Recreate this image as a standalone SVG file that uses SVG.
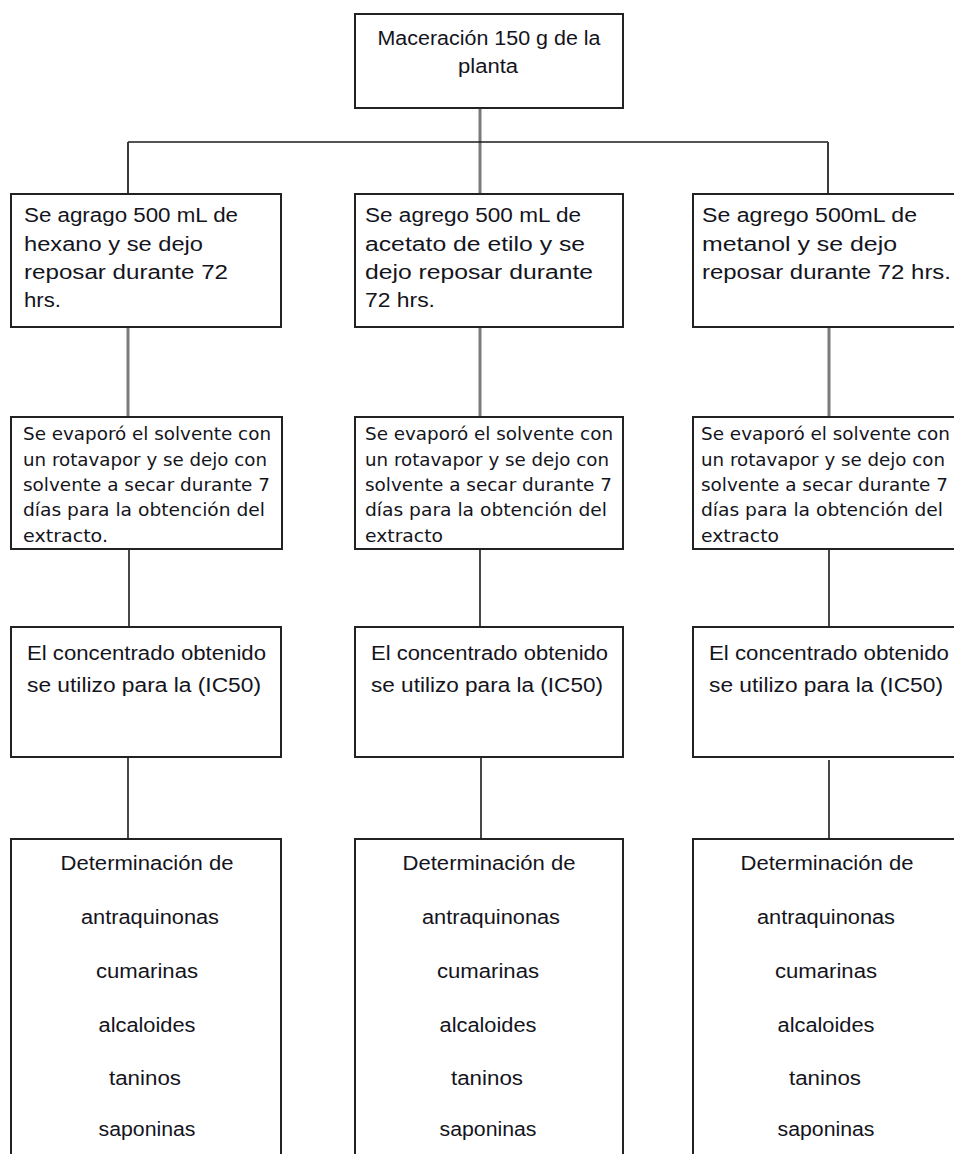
<svg xmlns="http://www.w3.org/2000/svg" width="954" height="1154" viewBox="0 0 954 1154">
<style>
.box{fill:#fff;stroke:#222;stroke-width:2}
.t{font-family:"Liberation Sans",Arial,sans-serif;font-size:20px;fill:#141420}
.v{font-family:"DejaVu Sans",Verdana,sans-serif;font-size:17px;fill:#141420}
.c{text-anchor:middle}
.gray{stroke:#7a7a7a;stroke-width:3;fill:none}
.dk{stroke:#3a3a3a;stroke-width:2;fill:none}
.bl{stroke:#1a1a1a;stroke-width:1.6;fill:none}
</style>
<rect width="954" height="1154" fill="#fff"/>
<g id="connectors">
<line class="gray" x1="480" y1="108" x2="480" y2="194"/>
<line class="bl" x1="128" y1="142" x2="828" y2="142"/>
<line class="dk" x1="128" y1="142" x2="128" y2="194"/>
<line class="dk" x1="828" y1="142" x2="828" y2="194"/>
<line class="gray" x1="128" y1="327" x2="128" y2="417"/>
<line class="gray" x1="480" y1="327" x2="480" y2="417"/>
<line class="gray" x1="829" y1="327" x2="829" y2="417"/>
<line class="bl" x1="129" y1="549" x2="129" y2="627"/>
<line class="bl" x1="480" y1="549" x2="480" y2="627"/>
<line class="bl" x1="829" y1="549" x2="829" y2="627"/>
<line class="bl" x1="128" y1="757" x2="128" y2="839"/>
<line class="bl" x1="481" y1="757" x2="481" y2="839"/>
<line class="bl" x1="829" y1="760" x2="829" y2="839"/>
</g>
<g id="n0">
<rect class="box" x="355" y="14" width="268" height="94"/>
<text class="t c" x="489" y="45" textLength="223" lengthAdjust="spacingAndGlyphs">Maceración 150 g de la</text>
<text class="t c" x="488" y="73" textLength="60" lengthAdjust="spacingAndGlyphs">planta</text>
</g>
<g id="n1">
<rect class="box" x="11" y="194" width="270" height="133"/>
<text class="t" x="24" y="222" textLength="214" lengthAdjust="spacingAndGlyphs">Se agrago 500 mL de</text>
<text class="t" x="24" y="251" textLength="179" lengthAdjust="spacingAndGlyphs">hexano y se dejo</text>
<text class="t" x="24" y="279" textLength="204" lengthAdjust="spacingAndGlyphs">reposar durante 72</text>
<text class="t" x="24" y="307" textLength="37" lengthAdjust="spacingAndGlyphs">hrs.</text>
</g>
<g id="n2">
<rect class="box" x="355" y="194" width="268" height="133"/>
<text class="t" x="365" y="222" textLength="216" lengthAdjust="spacingAndGlyphs">Se agrego 500 mL de</text>
<text class="t" x="365" y="251" textLength="220" lengthAdjust="spacingAndGlyphs">acetato de etilo y se</text>
<text class="t" x="365" y="279" textLength="228" lengthAdjust="spacingAndGlyphs">dejo reposar durante</text>
<text class="t" x="365" y="307" textLength="70" lengthAdjust="spacingAndGlyphs">72 hrs.</text>
</g>
<g id="n3">
<rect class="box" x="693" y="194" width="275" height="133"/>
<text class="t" x="702" y="222" textLength="215" lengthAdjust="spacingAndGlyphs">Se agrego 500mL de</text>
<text class="t" x="702" y="251" textLength="195" lengthAdjust="spacingAndGlyphs">metanol y se dejo</text>
<text class="t" x="702" y="279" textLength="249" lengthAdjust="spacingAndGlyphs">reposar durante 72 hrs.</text>
</g>
<g id="n4">
<rect class="box" x="11" y="417" width="271" height="132"/>
<text class="v" x="23" y="440" textLength="248" lengthAdjust="spacingAndGlyphs">Se evaporó el solvente con</text>
<text class="v" x="23" y="466" textLength="244" lengthAdjust="spacingAndGlyphs">un rotavapor y se dejo con</text>
<text class="v" x="23" y="491" textLength="247" lengthAdjust="spacingAndGlyphs">solvente a secar durante 7</text>
<text class="v" x="23" y="516" textLength="242" lengthAdjust="spacingAndGlyphs">días para la obtención del</text>
<text class="v" x="23" y="542" textLength="85" lengthAdjust="spacingAndGlyphs">extracto.</text>
</g>
<g id="n5">
<rect class="box" x="355" y="417" width="268" height="132"/>
<text class="v" x="365" y="440" textLength="248" lengthAdjust="spacingAndGlyphs">Se evaporó el solvente con</text>
<text class="v" x="365" y="466" textLength="244" lengthAdjust="spacingAndGlyphs">un rotavapor y se dejo con</text>
<text class="v" x="365" y="491" textLength="247" lengthAdjust="spacingAndGlyphs">solvente a secar durante 7</text>
<text class="v" x="365" y="516" textLength="242" lengthAdjust="spacingAndGlyphs">días para la obtención del</text>
<text class="v" x="365" y="542" textLength="78" lengthAdjust="spacingAndGlyphs">extracto</text>
</g>
<g id="n6">
<rect class="box" x="693" y="417" width="275" height="132"/>
<text class="v" x="701" y="440" textLength="249" lengthAdjust="spacingAndGlyphs">Se evaporó el solvente con</text>
<text class="v" x="701" y="466" textLength="244" lengthAdjust="spacingAndGlyphs">un rotavapor y se dejo con</text>
<text class="v" x="701" y="491" textLength="247" lengthAdjust="spacingAndGlyphs">solvente a secar durante 7</text>
<text class="v" x="701" y="516" textLength="242" lengthAdjust="spacingAndGlyphs">días para la obtención del</text>
<text class="v" x="701" y="542" textLength="78" lengthAdjust="spacingAndGlyphs">extracto</text>
</g>
<g id="n7">
<rect class="box" x="11" y="627" width="270" height="130"/>
<text class="t" x="27" y="660" textLength="239" lengthAdjust="spacingAndGlyphs">El  concentrado obtenido</text>
<text class="t" x="27" y="692" textLength="234" lengthAdjust="spacingAndGlyphs">se utilizo para la (IC50)</text>
</g>
<g id="n8">
<rect class="box" x="355" y="627" width="268" height="130"/>
<text class="t" x="371" y="660" textLength="237" lengthAdjust="spacingAndGlyphs">El  concentrado obtenido</text>
<text class="t" x="371" y="692" textLength="232" lengthAdjust="spacingAndGlyphs">se utilizo para la (IC50)</text>
</g>
<g id="n9">
<rect class="box" x="693" y="627" width="275" height="130"/>
<text class="t" x="709" y="660" textLength="240" lengthAdjust="spacingAndGlyphs">El  concentrado obtenido</text>
<text class="t" x="709" y="692" textLength="234" lengthAdjust="spacingAndGlyphs">se utilizo para la (IC50)</text>
</g>
<g id="n10">
<rect class="box" x="11" y="839" width="270" height="330"/>
<text class="t c" x="147" y="870" textLength="173" lengthAdjust="spacingAndGlyphs">Determinación de</text>
<text class="t c" x="150" y="924" textLength="138" lengthAdjust="spacingAndGlyphs">antraquinonas</text>
<text class="t c" x="147" y="978" textLength="102" lengthAdjust="spacingAndGlyphs">cumarinas</text>
<text class="t c" x="147" y="1032" textLength="97" lengthAdjust="spacingAndGlyphs">alcaloides</text>
<text class="t c" x="145" y="1085" textLength="72" lengthAdjust="spacingAndGlyphs">taninos</text>
<text class="t c" x="147" y="1136" textLength="97" lengthAdjust="spacingAndGlyphs">saponinas</text>
</g>
<g id="n11">
<rect class="box" x="355" y="839" width="268" height="330"/>
<text class="t c" x="489" y="870" textLength="173" lengthAdjust="spacingAndGlyphs">Determinación de</text>
<text class="t c" x="491" y="924" textLength="138" lengthAdjust="spacingAndGlyphs">antraquinonas</text>
<text class="t c" x="488" y="978" textLength="102" lengthAdjust="spacingAndGlyphs">cumarinas</text>
<text class="t c" x="488" y="1032" textLength="97" lengthAdjust="spacingAndGlyphs">alcaloides</text>
<text class="t c" x="487" y="1085" textLength="72" lengthAdjust="spacingAndGlyphs">taninos</text>
<text class="t c" x="488" y="1136" textLength="97" lengthAdjust="spacingAndGlyphs">saponinas</text>
</g>
<g id="n12">
<rect class="box" x="693" y="839" width="275" height="330"/>
<text class="t c" x="827" y="870" textLength="173" lengthAdjust="spacingAndGlyphs">Determinación de</text>
<text class="t c" x="826" y="924" textLength="138" lengthAdjust="spacingAndGlyphs">antraquinonas</text>
<text class="t c" x="826" y="978" textLength="102" lengthAdjust="spacingAndGlyphs">cumarinas</text>
<text class="t c" x="826" y="1032" textLength="97" lengthAdjust="spacingAndGlyphs">alcaloides</text>
<text class="t c" x="825" y="1085" textLength="72" lengthAdjust="spacingAndGlyphs">taninos</text>
<text class="t c" x="826" y="1136" textLength="97" lengthAdjust="spacingAndGlyphs">saponinas</text>
</g>
</svg>
